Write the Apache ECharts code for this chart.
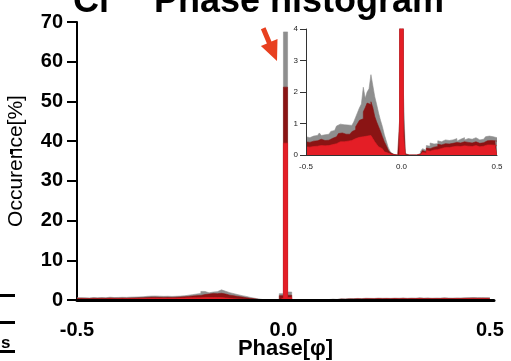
<!DOCTYPE html>
<html><head><meta charset="utf-8">
<script src="https://cdn.jsdelivr.net/npm/echarts@6/dist/echarts.min.js"></script>
<style>html,body{margin:0;padding:0;background:#fff}#c{width:511px;height:361px}</style>
</head><body><div id="c"></div>
<script>
// Histogram bins: 100 bins of width 0.01 starting at phase -0.5
const binStart = -0.5, binWidth = 0.01;
const xTicks = [-0.5, 0.0, 0.5];
const yTicksMain = [0, 10, 20, 30, 40, 50, 60, 70];
const yTicksInset = [0, 1, 2, 3, 4];

// All events (gray)
const totalPct = [
  0.58,0.55,0.52,0.60,0.56,0.62,0.58,0.70,0.62,0.64,
  0.68,0.66,0.72,0.75,0.78,0.82,0.92,0.98,1.00,0.96,
  0.92,0.95,0.90,0.94,0.98,1.05,1.20,1.35,1.50,1.62,
  2.15,1.80,2.00,2.10,2.55,2.20,1.85,1.60,1.33,1.10,
  0.90,0.65,0.45,0.25,0.12,0.04,0.00,0.00,0.00,1.60,
  67.5,2.00,0.05,0.00,0.00,0.00,0.00,0.00,0.06,0.05,
  0.12,0.20,0.15,0.30,0.28,0.38,0.35,0.40,0.36,0.45,
  0.42,0.40,0.48,0.44,0.46,0.42,0.48,0.45,0.52,0.44,
  0.50,0.47,0.55,0.48,0.52,0.46,0.50,0.48,0.55,0.50,
  0.48,0.52,0.50,0.55,0.58,0.60,0.58,0.58,0.56,0.55
];
// Subset (dark red)
const subsetPct = [
  0.42,0.40,0.38,0.44,0.41,0.45,0.42,0.50,0.45,0.46,
  0.48,0.47,0.52,0.53,0.55,0.58,0.64,0.68,0.70,0.68,
  0.66,0.68,0.66,0.70,0.74,0.80,0.90,1.00,1.10,1.15,
  1.37,1.50,1.65,1.60,1.69,1.50,1.22,1.05,0.90,0.75,
  0.58,0.42,0.30,0.16,0.08,0.02,0.00,0.00,0.00,1.10,
  53.6,1.20,0.03,0.00,0.00,0.00,0.00,0.00,0.04,0.03,
  0.08,0.14,0.10,0.22,0.20,0.26,0.25,0.30,0.27,0.34,
  0.32,0.30,0.36,0.33,0.35,0.32,0.37,0.34,0.40,0.34,
  0.38,0.36,0.42,0.37,0.40,0.35,0.38,0.37,0.42,0.38,
  0.37,0.40,0.39,0.42,0.45,0.47,0.46,0.46,0.45,0.44
];
// Core subset (red)
const corePct = [
  0.26,0.25,0.24,0.27,0.26,0.28,0.26,0.30,0.28,0.29,
  0.30,0.30,0.33,0.33,0.34,0.36,0.40,0.42,0.44,0.42,
  0.42,0.44,0.43,0.46,0.48,0.52,0.55,0.56,0.58,0.58,
  0.62,0.60,0.63,0.62,0.60,0.52,0.42,0.34,0.26,0.20,
  0.15,0.10,0.06,0.03,0.01,0.00,0.00,0.00,0.00,0.50,
  39.5,0.60,0.00,0.00,0.00,0.00,0.00,0.00,0.02,0.01,
  0.04,0.08,0.06,0.14,0.12,0.16,0.16,0.19,0.17,0.22,
  0.21,0.20,0.24,0.22,0.24,0.22,0.26,0.24,0.28,0.24,
  0.27,0.25,0.29,0.26,0.28,0.25,0.27,0.26,0.30,0.27,
  0.26,0.29,0.28,0.30,0.32,0.33,0.32,0.32,0.31,0.30
];

const FONT = "'Liberation Sans', Arial, sans-serif";
const colors = ['#8e8e8e', '#8a1414', '#e41e26'];
const seriesSets = [totalPct, subsetPct, corePct];

function toSteps(vals) {
  const out = vals.map((v, i) => [+(binStart + i * binWidth).toFixed(3), v]);
  out.push([+(binStart + vals.length * binWidth).toFixed(3), vals[vals.length - 1]]);
  return out;
}
function tickFmt(list) {
  return v => list.some(t => Math.abs(t - v) < 1e-9) ? v.toFixed(1) : '';
}

const series = [];
[0, 1].forEach(g => {
  seriesSets.forEach((vals, k) => {
    series.push({
      type: 'line', xAxisIndex: g, yAxisIndex: g, step: 'end',
      data: toSteps(vals), symbol: 'none', showSymbol: false, clip: true,
      smooth: false,
      lineStyle: { width: 0.6, color: colors[k] },
      areaStyle: { color: colors[k], opacity: 1 },
      z: 2 + k, silent: true
    });
  });
});

const chart = echarts.init(document.getElementById('c'), null, { renderer: 'canvas' });
chart.setOption({
  animation: false,
  backgroundColor: '#ffffff',
  grid: [
    { left: 77, top: 22, width: 417, height: 278, outerBoundsMode: 'none', containLabel: false },
    { left: 306, top: 29, width: 191, height: 126, outerBoundsMode: 'none', containLabel: false }
  ],
  xAxis: [
    {
      type: 'value', gridIndex: 0, min: -0.5, max: 0.51, interval: 0.5,
      name: 'Phase[φ]', nameLocation: 'middle', nameGap: 38, nameMoveOverlap: false,
      nameTextStyle: { fontFamily: FONT, fontWeight: 'bold', fontSize: 22, color: '#000' },
      axisLine: { show: true, onZero: false, lineStyle: { color: '#000', width: 3 } },
      axisTick: { show: false },
      axisLabel: { fontFamily: FONT, fontWeight: 'bold', fontSize: 20, color: '#000', margin: 20,
                   formatter: tickFmt(xTicks), showMaxLabel: false },
      splitLine: { show: false }, z: 5
    },
    {
      type: 'value', gridIndex: 1, min: -0.5, max: 0.5, interval: 0.5,
      axisLine: { show: true, onZero: false, lineStyle: { color: '#333', width: 1 } },
      axisTick: { show: false },
      axisLabel: { fontFamily: FONT, fontSize: 8, color: '#222', margin: 8, formatter: tickFmt(xTicks) },
      splitLine: { show: false }, z: 6
    }
  ],
  yAxis: [
    {
      type: 'value', gridIndex: 0, min: 0, max: 70, interval: 10,
      name: 'Occurence[%]', nameLocation: 'middle', nameGap: 50, nameMoveOverlap: false,
      nameTextStyle: { fontFamily: FONT, fontSize: 21, color: '#000' },
      axisLine: { show: true, onZero: false, lineStyle: { color: '#000', width: 2 } },
      axisTick: { show: true, length: 10, lineStyle: { color: '#000', width: 2 } },
      axisLabel: { fontFamily: FONT, fontWeight: 'bold', fontSize: 20, color: '#000', margin: 14,
                   formatter: v => yTicksMain.includes(v) ? String(v) : '' },
      splitLine: { show: false }
    },
    {
      type: 'value', gridIndex: 1, min: 0, max: 4, interval: 1,
      axisLine: { show: true, onZero: false, lineStyle: { color: '#333', width: 1 } },
      axisTick: { show: true, length: 6, lineStyle: { color: '#333', width: 1 } },
      axisLabel: { fontFamily: FONT, fontSize: 8, color: '#222', margin: 8,
                   formatter: v => yTicksInset.includes(v) ? String(v) : '' },
      splitLine: { show: false }, z: 6
    }
  ],
  series: series,
  graphic: [
    { type: 'text', x: 73, y: 2, z: 10,
      style: { text: 'Cl', font: "bold 36px " + FONT, fill: '#000', verticalAlign: 'middle', align: 'left' } },
    { type: 'text', x: 154, y: 2, z: 10,
      style: { text: 'Phase histogram', font: "bold 36px " + FONT, fill: '#000', verticalAlign: 'middle', align: 'left' } },
    { type: 'polygon', z: 10,
      shape: { points: [[260.9,29.2],[265.5,27.2],[271.5,41.6],[277.5,39.1],[277,61],[260.9,46.1],[266.9,43.6]] },
      style: { fill: '#e8401f' } },
    { type: 'rect', z: 10, shape: { x: 0, y: 294, width: 15, height: 3 }, style: { fill: '#000' } },
    { type: 'rect', z: 10, shape: { x: 0, y: 321, width: 15, height: 3 }, style: { fill: '#000' } },
    { type: 'rect', z: 10, shape: { x: 0, y: 350, width: 15, height: 3 }, style: { fill: '#000' } },
    { type: 'rect', z: 10, shape: { x: 10, y: 149, width: 3, height: 5 }, style: { fill: '#000' } },
    { type: 'text', x: 1, y: 343, z: 10,
      style: { text: 's', font: "bold 17px " + FONT, fill: '#000', verticalAlign: 'middle', align: 'left' } }
  ]
});
</script>
</body></html>
